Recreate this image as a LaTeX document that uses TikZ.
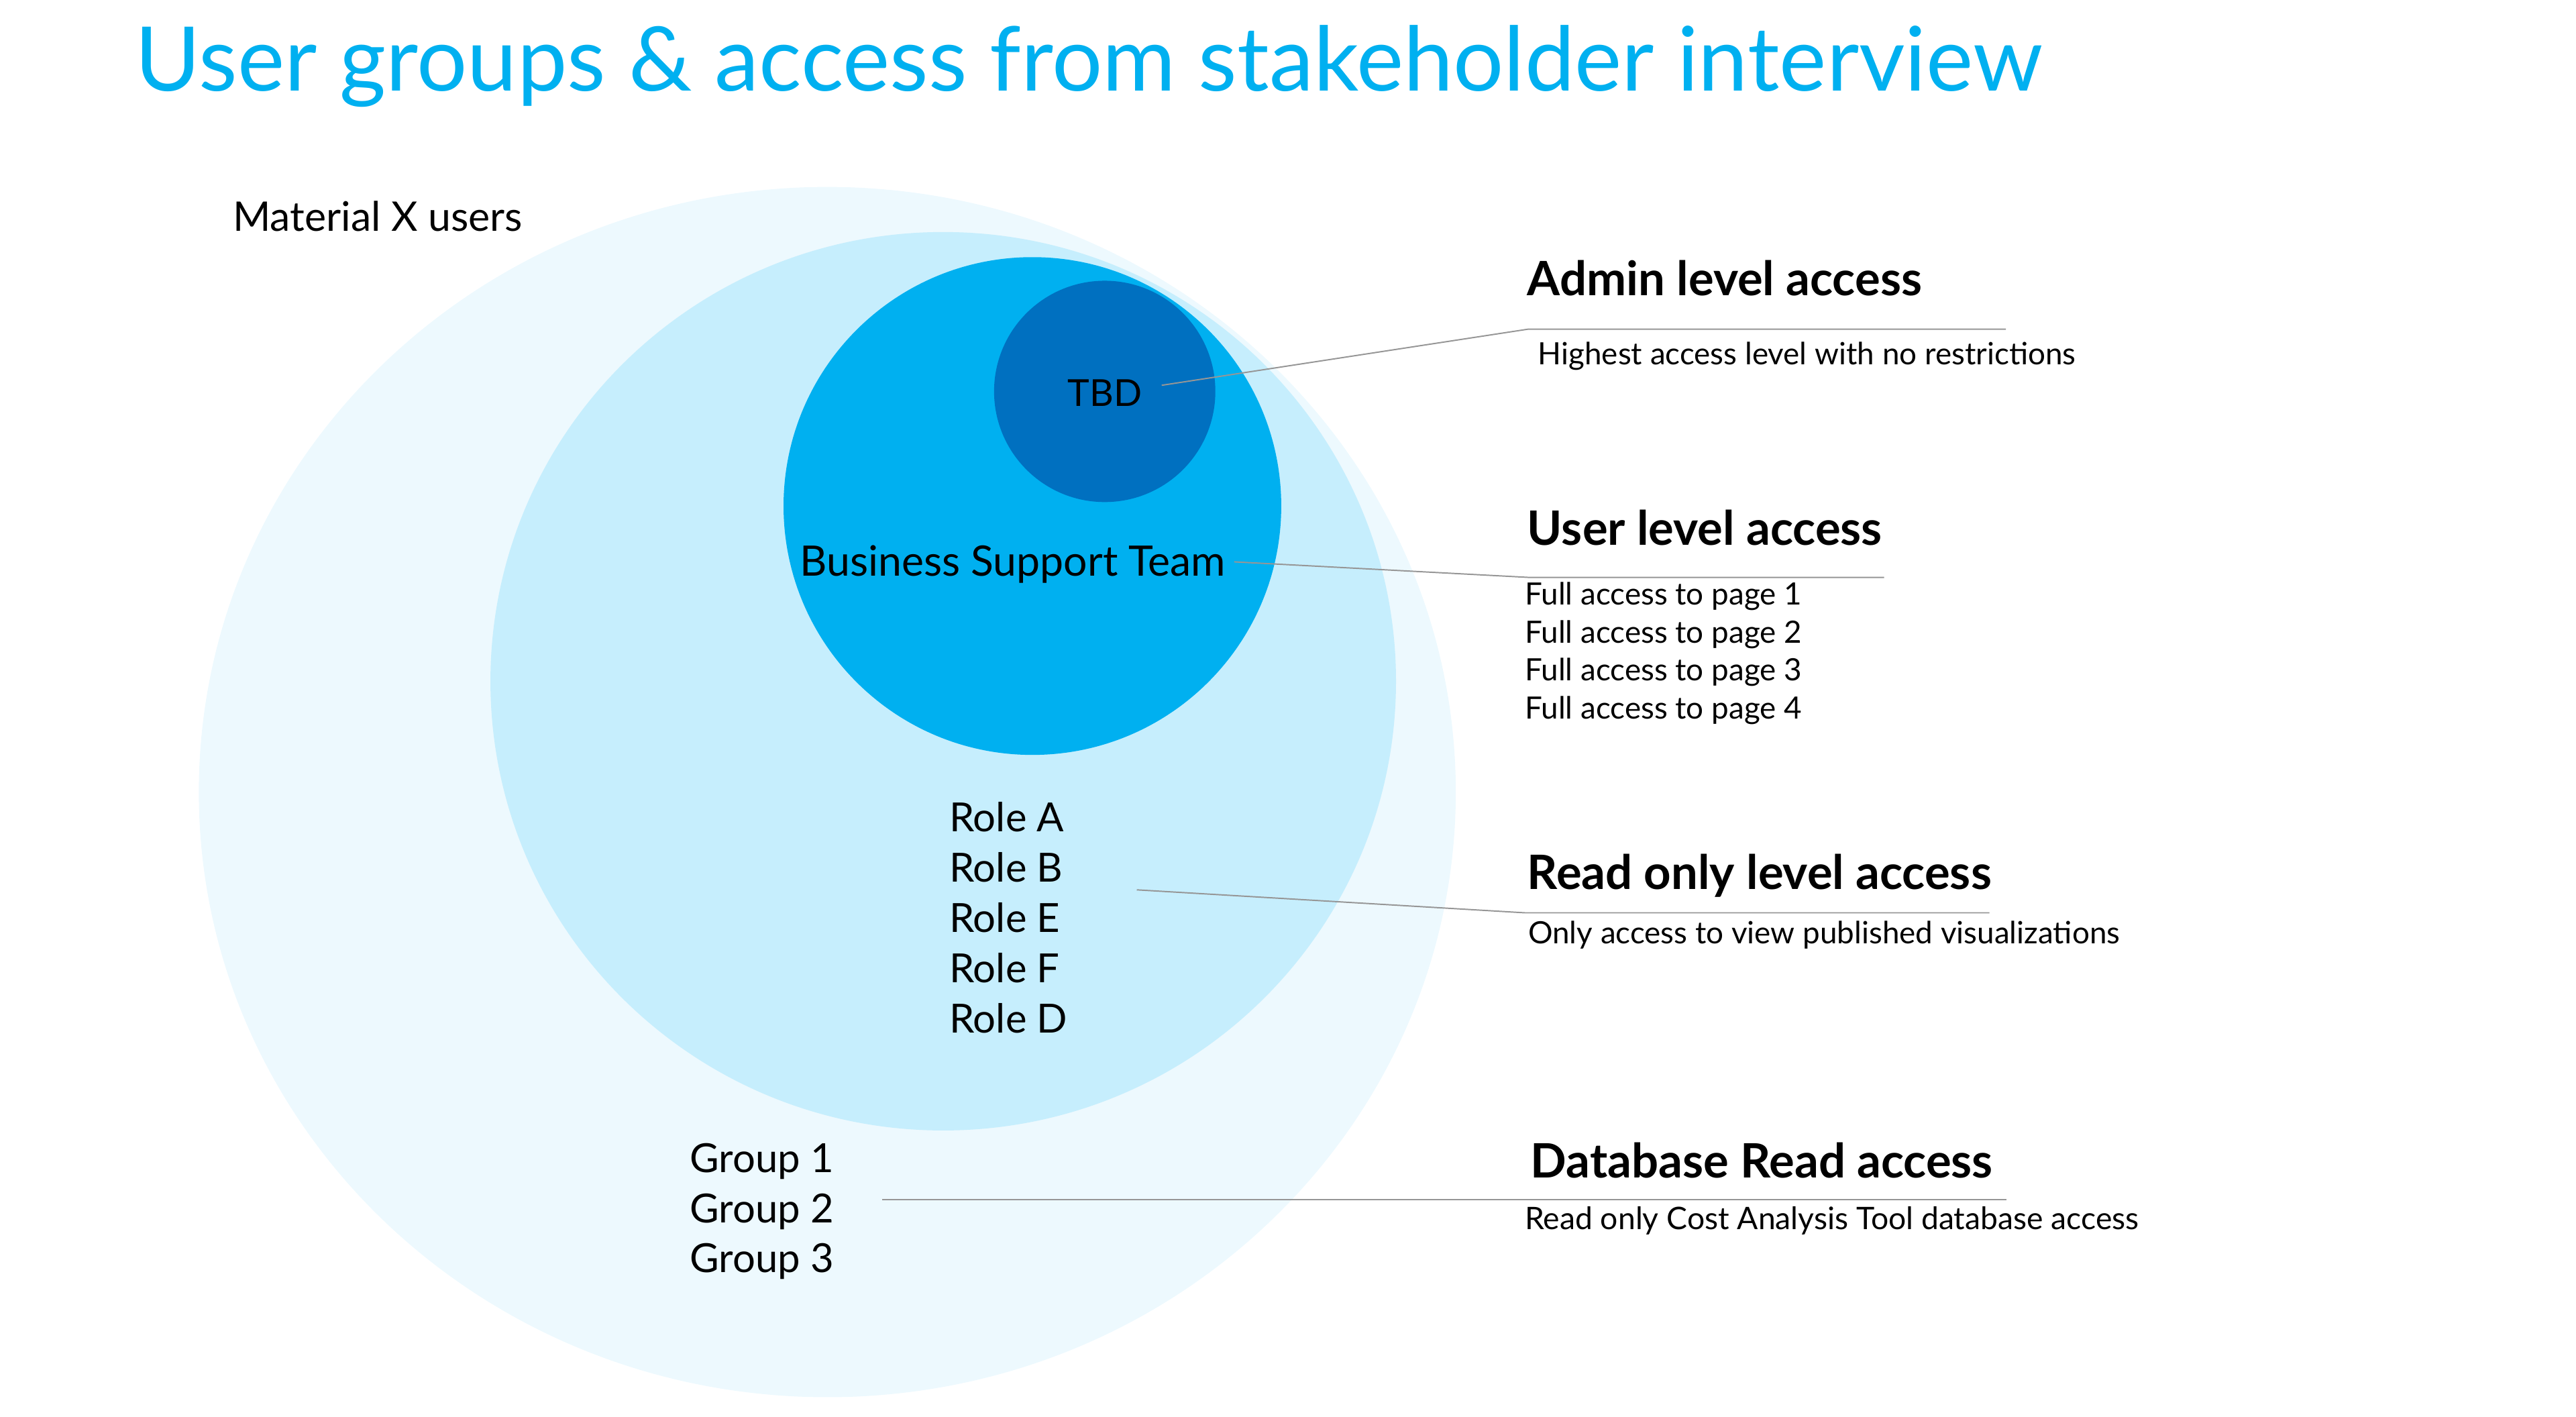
\documentclass[tikz,border=0pt]{standalone}
\usepackage{fontspec}
\setmainfont{Lato}
\definecolor{outerc}{RGB}{237,249,254}
\definecolor{midc}{RGB}{198,238,253}
\definecolor{bstc}{RGB}{0,176,240}
\definecolor{tbdc}{RGB}{0,112,192}
\definecolor{titlec}{RGB}{0,176,240}
\definecolor{linec}{RGB}{150,150,150}
\tikzset{
  lbl/.style={anchor=base west,inner sep=0pt,outer sep=0pt,text=black},
  bodytxt/.style={lbl,font=\fontsize{24}{30}\selectfont},
  headtxt/.style={lbl,font=\fontsize{28.7}{34}\selectfont\bfseries},
  smalltxt/.style={lbl,font=\fontsize{18.6}{23}\selectfont},
  leader/.style={draw=linec,line width=0.8pt}
}
\begin{document}
\begin{tikzpicture}[x=1pt,y=-1pt]
\useasboundingbox (0,0) rectangle (1560,858);
% circles
\fill[outerc] (501,479.6) ellipse [x radius=380.6pt, y radius=366.4pt];
\fill[midc] (571.2,412.5) ellipse [x radius=274.2pt, y radius=272pt];
\fill[bstc] (625.2,306.4) circle [radius=150.7pt];
\fill[tbdc] (669,237) circle [radius=67pt];
% title
\node[lbl,text=titlec,font=\fontsize{54}{60}\selectfont] (title) at (82,55) {User groups \& access from stakeholder interview};
% left labels
\node[bodytxt,font=\fontsize{24.7}{30}\selectfont] (matx) at (141,140) {Material X users};
\node[lbl,font=\fontsize{22.5}{27}\selectfont,anchor=base] (tbd) at (669,246) {TBD};
\node[bodytxt,font=\fontsize{25.4}{30}\selectfont] (bst) at (484.5,348.7) {Business Support Team};
\node[bodytxt,font=\fontsize{24.3}{30}\selectfont] (roleA) at (575,503.7) {Role A};
\node[bodytxt,font=\fontsize{24.3}{30}\selectfont] (roleB) at (575,534.15) {Role B};
\node[bodytxt,font=\fontsize{24.3}{30}\selectfont] (roleE) at (575,564.6) {Role E};
\node[bodytxt,font=\fontsize{24.3}{30}\selectfont] (roleF) at (575,595.05) {Role F};
\node[bodytxt,font=\fontsize{24.3}{30}\selectfont] (roleD) at (575,625.5) {Role D};
\node[bodytxt,font=\fontsize{24.3}{30}\selectfont] (grp1) at (417.8,709.8) {Group 1};
\node[bodytxt,font=\fontsize{24.3}{30}\selectfont] (grp2) at (417.8,740.2) {Group 2};
\node[bodytxt,font=\fontsize{24.3}{30}\selectfont] (grp3) at (417.8,770.6) {Group 3};
% right labels
\node[headtxt] (admin) at (925,179) {Admin level access};
\node[smalltxt] (adminD) at (931.5,220.6) {Highest access level with no restrictions};
\node[headtxt] (user) at (925,330) {User level access};
\node[smalltxt] (user1) at (923.5,366.4) {Full access to page 1};
\node[smalltxt] (user2) at (923.5,389.3) {Full access to page 2};
\node[smalltxt] (user3) at (923.5,412.3) {Full access to page 3};
\node[smalltxt] (user4) at (923.5,435.3) {Full access to page 4};
\node[headtxt] (read) at (925,538.5) {Read only level access};
\node[smalltxt] (readD) at (925.5,571.2) {Only access to view published visualizations};
\node[headtxt] (db) at (927,713) {Database Read access};
\node[smalltxt,font=\fontsize{18.8}{23}\selectfont] (dbD) at (923.5,744.5) {Read only Cost Analysis Tool database access};
% leader coordinates
\coordinate (aS) at (703.5,233.3);
\coordinate (aK) at (925.5,199.3);
\coordinate (aE) at (1214.7,199.3);
\coordinate (uS) at (747.4,340.2);
\coordinate (uK) at (925.5,349.6);
\coordinate (uE) at (1141,349.6);
\coordinate (rS) at (688.4,538.8);
\coordinate (rK) at (923.4,552.7);
\coordinate (rE) at (1204.8,552.7);
\coordinate (dS) at (534.4,726.4);
\coordinate (dE) at (1215,726.4);
\draw[leader] (aS) -- (aK) -- (aE);
\draw[leader] (uS) -- (uK) -- (uE);
\draw[leader] (rS) -- (rK) -- (rE);
\draw[leader] (dS) -- (dE);
\end{tikzpicture}
\end{document}
